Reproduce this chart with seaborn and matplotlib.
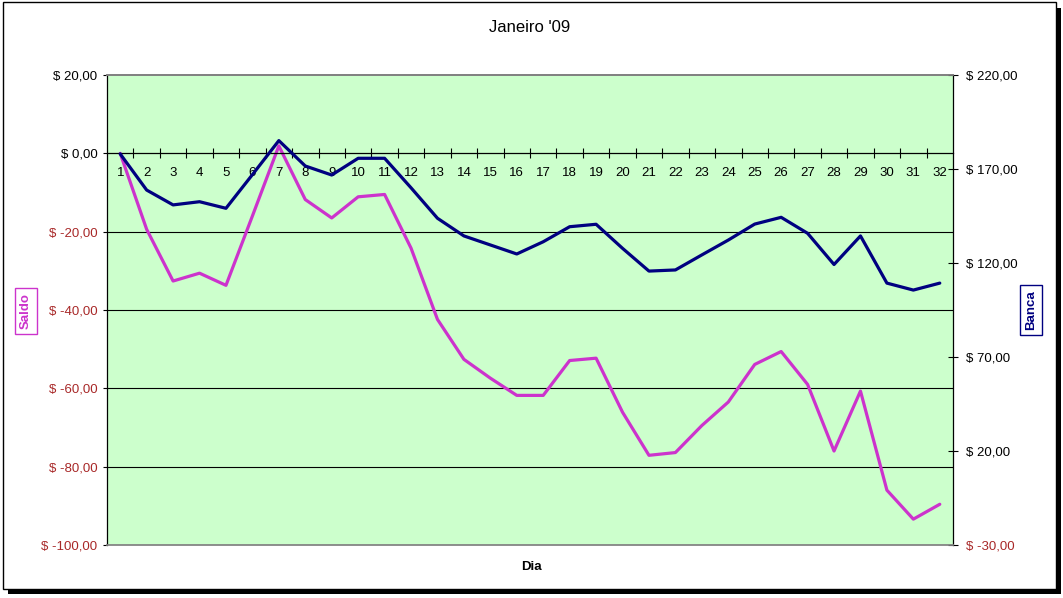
import numpy as np
import pandas as pd
import matplotlib
matplotlib.use("Agg")
import matplotlib.pyplot as plt
from matplotlib.patches import Rectangle
import seaborn as sns

# Data
dias = list(range(1, 33))
saldo = [0.0, -19.4, -32.6, -30.6, -33.7, -16.0, 1.9, -11.8, -16.5, -11.1,
         -10.5, -24.2, -42.4, -52.6, -57.4, -61.8, -61.8, -52.9, -52.3, -66.1,
         -77.1, -76.4, -69.5, -63.5, -53.9, -50.6, -59.0, -76.0, -60.7, -86.0,
         -93.4, -89.6]
banca = [178.0, 158.8, 150.9, 152.6, 149.1, 167.0, 185.1, 171.6, 166.8, 175.7,
         175.7, 160.0, 143.8, 134.4, 129.6, 124.8, 131.3, 139.3, 140.6, 127.8,
         115.7, 116.3, 124.3, 132.2, 140.7, 144.3, 135.8, 119.2, 134.4, 109.3,
         105.6, 109.3]
saldo_ticks = [-100, -80, -60, -40, -20, 0, 20]
banca_ticks = [-30, 20, 70, 120, 170, 220]

df = pd.DataFrame({"Dia": dias, "Saldo": saldo, "Banca": banca})

sns.set_theme(style="white")
plt.rcParams['font.family'] = ['Liberation Sans', 'DejaVu Sans']

W, H = 1063, 598
fig = plt.figure(figsize=(W / 100, H / 100), dpi=100)
fig.patch.set_facecolor("white")

# plot area in pixels: x 107..953, y 75..545
ax = fig.add_axes([107 / W, 1 - 545 / H, (953 - 107) / W, (545 - 75) / H])
ax.set_facecolor("#CCFFCC")
ax2 = ax.twinx()

sns.lineplot(data=df, x="Dia", y="Saldo", ax=ax, color="#CC33CC", linewidth=2.3)
sns.lineplot(data=df, x="Dia", y="Banca", ax=ax2, color="#000080", linewidth=2.3)

ax.set_xlim(0.5, 32.5)
ax.set_ylim(-100, 20)
ax2.set_ylim(-30, 220)

red = "#A82828"
lab_size = 9.5

# left axis
ax.set_yticks(saldo_ticks)
ax.set_yticklabels([f"$ {v},00" for v in saldo_ticks], fontsize=lab_size)
for t, v in zip(ax.get_yticklabels(), saldo_ticks):
    t.set_color(red if v < 0 else "black")
ax.tick_params(axis="y", direction="out", length=3, width=0.8, color="black",
               pad=4, left=True)

# right axis
ax2.set_yticks(banca_ticks)
ax2.set_yticklabels([f"$ {v},00" for v in banca_ticks], fontsize=lab_size)
for t, v in zip(ax2.get_yticklabels(), banca_ticks):
    t.set_color(red if v < 0 else "black")
ax2.tick_params(axis="y", direction="inout", length=7, width=0.8, color="black",
                pad=6, right=True)

# category axis crossing at zero
ax.spines["bottom"].set_position(("data", 0))
ax.spines["bottom"].set_color("black")
ax.spines["bottom"].set_linewidth(0.9)
ax.set_xticks(dias)
ax.set_xticklabels([str(d) for d in dias], fontsize=lab_size)
ax.set_xticks([d + 0.5 for d in dias[:-1]], minor=True)
ax.tick_params(axis="x", which="major", length=0, pad=10, labelcolor="black")
ax.tick_params(axis="x", which="minor", direction="inout", length=7,
               width=0.8, color="black", bottom=True)

# gridlines
for v in saldo_ticks[1:-1]:
    if v != 0:
        ax.axhline(v, color="black", linewidth=0.8, zorder=0.5)

ax.spines["left"].set_color("black")
ax.spines["left"].set_linewidth(0.9)
ax.spines["top"].set_color("#808080")
ax.spines["right"].set_visible(False)
ax2.spines["left"].set_visible(False)
ax2.spines["top"].set_color("#808080")
ax2.spines["bottom"].set_color("#808080")
ax2.spines["right"].set_color("black")
ax2.spines["right"].set_linewidth(0.9)

ax.set_xlabel("")
ax.set_ylabel("")
ax2.set_ylabel("")

# titles
fig.text(530 / W, 1 - 27 / H, "Janeiro '09", ha="center", va="center",
         fontsize=12, color="black")
fig.text(531 / W, 1 - 567 / H, "Dia", ha="center", va="center",
         fontsize=9.5, fontweight="bold", color="black")
fig.text(26 / W, 1 - 311 / H, "Saldo", rotation=90, ha="center", va="center",
         fontsize=9.5, fontweight="bold", color="#CC33CC",
         bbox=dict(boxstyle="square,pad=0.4", fc="white", ec="#CC33CC", lw=1))
fig.text(1031 / W, 1 - 310 / H, "Banca", rotation=90, ha="center", va="center",
         fontsize=9.5, fontweight="bold", color="#000080",
         bbox=dict(boxstyle="square,pad=0.4", fc="white", ec="#000080", lw=1))

# chart frame with drop shadow
fig.add_artist(Rectangle((8 / W, 1 - 594 / H), (1061 - 8) / W, (594 - 8) / H,
                         transform=fig.transFigure, fc="black", ec="none", zorder=-2))
fig.add_artist(Rectangle((3 / W, 1 - 589 / H), (1056 - 3) / W, (589 - 2) / H,
                         transform=fig.transFigure, fc="white", ec="black",
                         lw=1, zorder=-1))

fig.savefig("out.png", dpi=100)
